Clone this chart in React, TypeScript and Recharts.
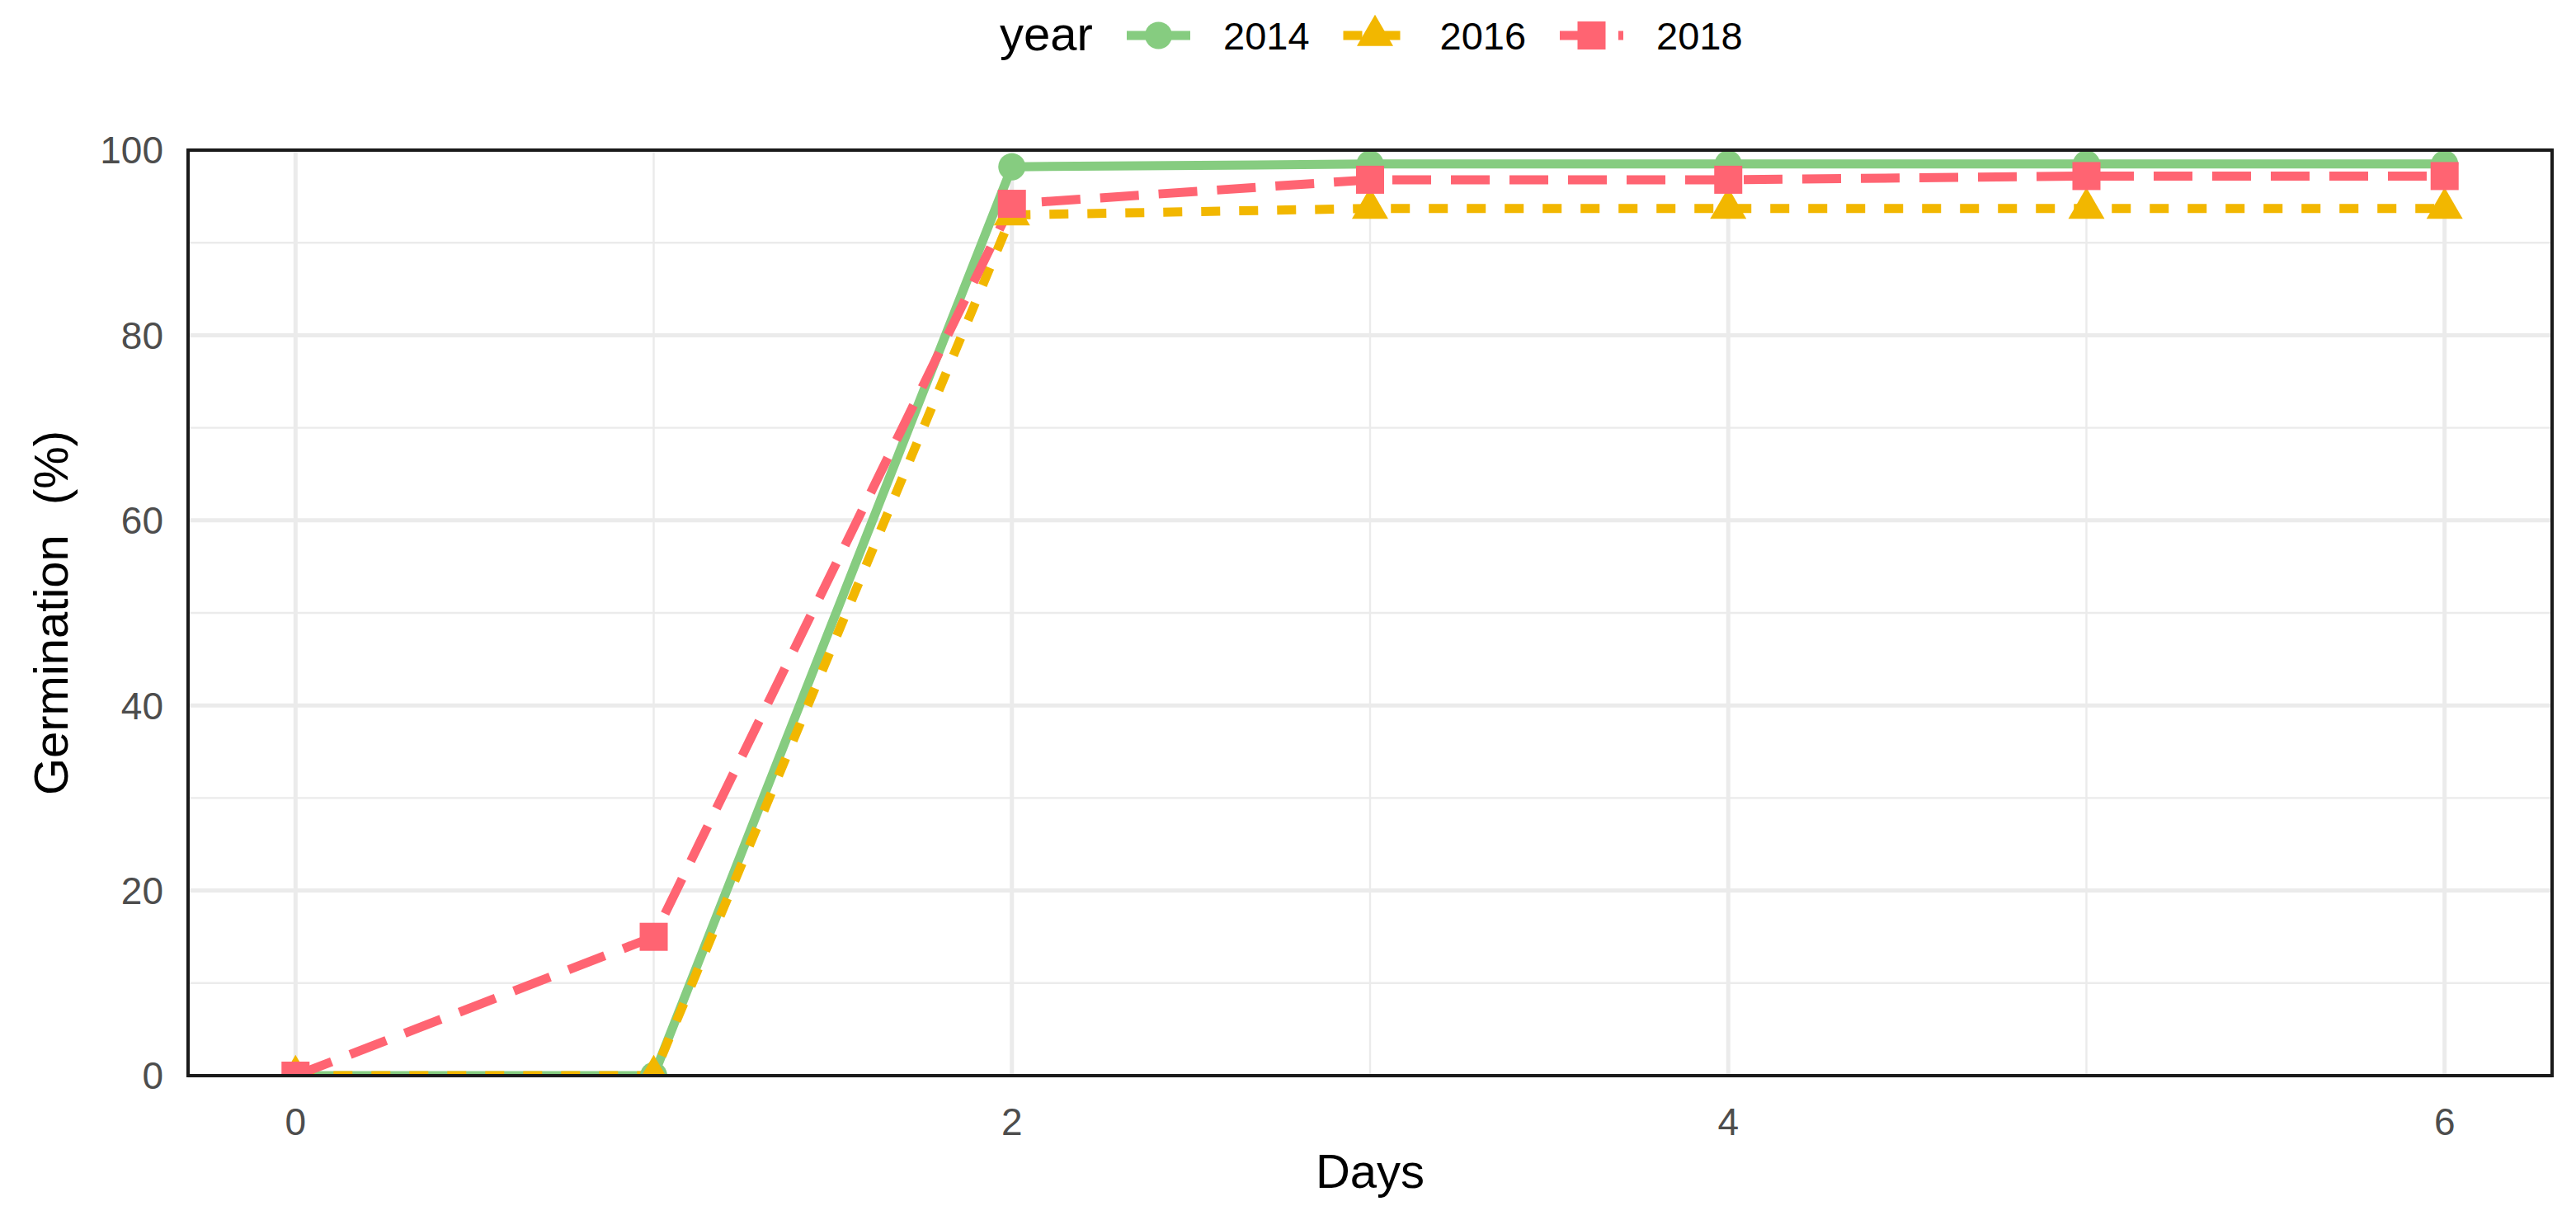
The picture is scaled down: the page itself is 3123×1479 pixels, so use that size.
import React from 'react';
import { LineChart, Line, XAxis, YAxis, CartesianGrid, ReferenceArea } from 'recharts';

// ---- data ----
const days = [0, 1, 2, 3, 4, 5, 6];
const germ2014 = [0, 0, 98.2, 98.5, 98.5, 98.5, 98.5];
const germ2016 = [0, 0, 93.0, 93.7, 93.7, 93.7, 93.7];
const germ2018 = [0, 15.0, 94.2, 96.8, 96.8, 97.2, 97.2];
const seriesYears = ['2014', '2016', '2018'];
const xTicks = [0, 2, 4, 6];
const xMinor = [1, 3, 5];
const yTicks = [0, 20, 40, 60, 80, 100];
const yMinor = [10, 30, 50, 70, 90];

const data = days.map((d, i) => ({
  day: d,
  y2014: germ2014[i],
  y2016: germ2016[i],
  y2018: germ2018[i],
}));

// ---- styles ----
const W = 3123;
const H = 1479;
const FONT = '"Liberation Sans", Arial, Helvetica, sans-serif';
const GREEN = '#86CC80';
const YELLOW = '#F2B700';
const RED = '#FF6472';
const LW = 11;
const styles: Record<string, { color: string; dash?: string; shape: string }> = {
  '2014': { color: GREEN, dash: undefined, shape: 'circle' },
  '2016': { color: YELLOW, dash: '23 23', shape: 'triangle' },
  '2018': { color: RED, dash: '47 24', shape: 'square' },
};

function Marker({ shape, cx, cy, color }: { shape: string; cx: number; cy: number; color: string }) {
  if (cx == null || cy == null || isNaN(cx) || isNaN(cy)) return null;
  if (shape === 'circle') return <circle cx={cx} cy={cy} r={16.5} fill={color} />;
  if (shape === 'square') return <rect x={cx - 17} y={cy - 17} width={34} height={34} fill={color} />;
  // triangle
  const hw = 22;
  const h = 38;
  return (
    <path
      d={`M${cx},${cy - (2 * h) / 3} L${cx + hw},${cy + h / 3} L${cx - hw},${cy + h / 3} Z`}
      fill={color}
    />
  );
}

const makeDot = (year: string) => (props: any) => {
  const { cx, cy, index } = props;
  return (
    <Marker key={`dot-${year}-${index}`} shape={styles[year].shape} cx={cx} cy={cy} color={styles[year].color} />
  );
};

function LegendOverlay() {
  const startKey = 1366;
  const period = 262.5;
  const keyW = 77;
  const cy = 43;
  return (
    <svg width={W} height={100} style={{ position: 'absolute', left: 0, top: 0 }}>
      <text x={1212} y={61} fontFamily={FONT} fontSize={58} fill="#000">
        year
      </text>
      {seriesYears.map((yr, i) => {
        const x0 = startKey + i * period;
        const st = styles[yr];
        return (
          <g key={yr}>
            <line
              x1={x0}
              x2={x0 + keyW}
              y1={cy}
              y2={cy}
              stroke={st.color}
              strokeWidth={LW}
              strokeDasharray={st.dash}
            />
            <Marker shape={st.shape} cx={x0 + keyW / 2} cy={cy} color={st.color} />
            <text x={x0 + keyW + 40} y={60} fontFamily={FONT} fontSize={47} fill="#000">
              {yr}
            </text>
          </g>
        );
      })}
    </svg>
  );
}

export default function App() {
  return (
    <div style={{ position: 'absolute', left: 0, top: 0, width: W, height: H, background: '#fff' }}>
      <LineChart
        width={W}
        height={H}
        data={data}
        margin={{ top: 182, right: 29, bottom: 75, left: 78 }}
      >
        <CartesianGrid
          stroke="#EBEBEB"
          strokeWidth={2.4}
          horizontalValues={yMinor}
          verticalValues={xMinor}
        />
        <CartesianGrid
          stroke="#EBEBEB"
          strokeWidth={5}
          horizontalValues={yTicks}
          verticalValues={xTicks}
        />
        <XAxis
          dataKey="day"
          type="number"
          domain={[-0.3, 6.3]}
          ticks={xTicks}
          allowDataOverflow
          axisLine={false}
          tickLine={false}
          tickSize={0}
          tickMargin={39}
          height={100}
          tick={{ fill: '#4D4D4D', fontSize: 46, fontFamily: FONT }}
          label={(p: any) => {
            const vb = p.viewBox || {};
            return (
              <text x={vb.x + vb.width / 2} y={1440} textAnchor="middle" fontFamily={FONT} fontSize={58} fill="#000">
                Days
              </text>
            );
          }}
        />
        <YAxis
          type="number"
          domain={[0, 100]}
          ticks={yTicks}
          allowDataOverflow
          axisLine={false}
          tickLine={false}
          tickSize={0}
          tickMargin={30}
          width={150}
          tick={{ fill: '#4D4D4D', fontSize: 46, fontFamily: FONT }}
          label={(p: any) => {
            const vb = p.viewBox || {};
            const cy = vb.y + vb.height / 2;
            return (
              <text
                x={82}
                y={cy}
                transform={`rotate(-90 82 ${cy})`}
                textAnchor="middle"
                fontFamily={FONT}
                fontSize={58}
                wordSpacing={20}
                fill="#000"
              >
                Germination (%)
              </text>
            );
          }}
        />
        {seriesYears.map((yr) => (
          <Line
            key={`line-${yr}`}
            dataKey={`y${yr}`}
            type="linear"
            stroke={styles[yr].color}
            strokeWidth={LW}
            strokeDasharray={styles[yr].dash}
            strokeLinejoin="round"
            strokeLinecap="butt"
            dot={false}
            activeDot={false}
            isAnimationActive={false}
          />
        ))}
        {seriesYears.map((yr) => (
          <Line
            key={`pts-${yr}`}
            dataKey={`y${yr}`}
            type="linear"
            stroke="none"
            dot={makeDot(yr)}
            activeDot={false}
            legendType="none"
            isAnimationActive={false}
          />
        ))}
        <ReferenceArea
          x1={-0.3}
          x2={6.3}
          y1={0}
          y2={100}
          fill="none"
          fillOpacity={0}
          stroke="#1A1A1A"
          strokeWidth={4}
          ifOverflow="visible"
          zIndex={1000}
        />
      </LineChart>
      <LegendOverlay />
    </div>
  );
}
